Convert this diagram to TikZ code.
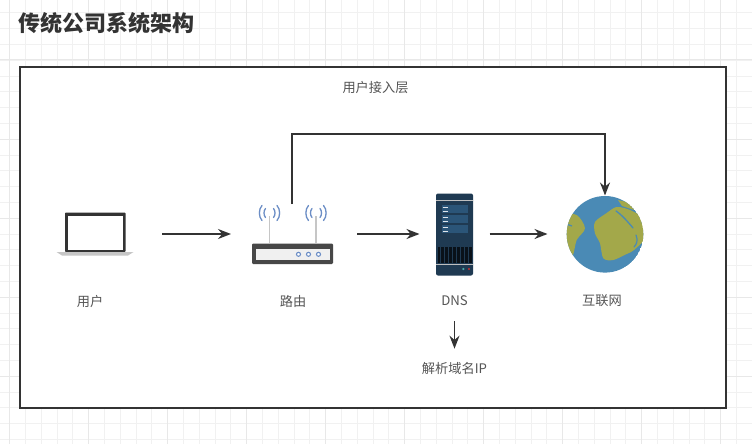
\documentclass[tikz,border=0pt]{standalone}
\usepackage{fontspec}
\setmainfont{Noto Sans CJK SC}
\usetikzlibrary{arrows.meta}
\definecolor{inkline}{HTML}{333333}
\definecolor{labelgray}{HTML}{555555}
\definecolor{gridthin}{HTML}{F1F1F1}
\definecolor{gridwide}{HTML}{E8E8E8}
\definecolor{wifiblue}{HTML}{6C8EC6}
\definecolor{rackdark}{HTML}{1F3A52}
\definecolor{rackpanel}{HTML}{2B5578}
\definecolor{ocean}{HTML}{4A8AB5}
\definecolor{land}{HTML}{A3A84A}
\tikzset{
	flow/.style={draw=inkline,line width=1.6pt,-{Stealth[length=13pt,width=10pt]}},
	caption/.style={text=labelgray,font=\fontsize{13.2}{15}\selectfont,inner sep=0pt},
	icon/.style={inner sep=0pt,outer sep=0pt,minimum width=#1},
	wifi/.style={draw=wifiblue,line width=1.3pt,line cap=round}
}
\begin{document}
\begin{tikzpicture}[x=1pt,y=-1pt]
	\useasboundingbox (0,0) rectangle (752,444);
	\foreach \k in {0,...,47} \draw [gridthin,line width=.8pt] (9.5+15.8*\k,0)--(9.5+15.8*\k,444);
	\foreach \k in {0,...,28} \draw [gridthin,line width=.8pt] (0,-3+15.8*\k)--(752,-3+15.8*\k);
	\foreach \k in {0,...,9} \draw [gridwide,line width=1pt] (9.5+79*\k,0)--(9.5+79*\k,444);
	\foreach \k in {0,...,5} \draw [gridwide,line width=1pt] (0,60+79*\k)--(752,60+79*\k);
	\node [anchor=west,inner sep=0pt,text=inkline,font=\fontsize{22}{25}\selectfont\bfseries] (title) at (18,23) {传统公司系统架构};
	\node [draw=inkline,fill=white,line width=1.8pt,minimum width=706pt,minimum height=341pt,inner sep=0pt] (frame) at (373,237.5) {};
	\node [caption] (layer) at (375.5,88) {用户接入层};
	\node [icon=78pt,minimum height=44pt] (laptop) at (95,234) {};
	\node [icon=82pt,minimum height=60pt] (router) at (292,234) {};
	\node [icon=38pt,minimum height=82pt] (dns) at (454.5,234) {};
	\node [icon=77pt,minimum height=77pt,circle] (globe) at (605,234) {};
	\node [caption] (userlabel) at (90,301) {用户};
	\node [caption] (routerlabel) at (293,301) {路由};
	\node [caption] (dnslabel) at (454.5,301) {DNS};
	\node [caption] (netlabel) at (602,301) {互联网};
	\node [caption] (iplabel) at (454.5,368) {解析域名IP};
	\coordinate (rail) at (450,134);
	\draw [fill=inkline,draw=none,rounded corners=.8pt] (65,212.5) rectangle (125.5,252);
	\draw [fill=white,draw=none] (67.5,215.5) rectangle (122.5,249.5);
	\draw [fill=gray!45,draw=none] (56.5,252) -- (133.5,252) -- (128,255.5) -- (62,255.5) -- cycle;
	\draw [gray!45,line width=1.6pt] (269.5,243)--(269.5,216);
	\draw [gray!45,line width=1.6pt] (316,243)--(316,216);
	\foreach \x in {269.5,316} {
		\draw [wifi] (\x-4,208.5) .. controls (\x-6,211) and (\x-6,215) .. (\x-4,217.5);
		\draw [wifi] (\x+4,208.5) .. controls (\x+6,211) and (\x+6,215) .. (\x+4,217.5);
		\draw [wifi] (\x-7.5,205.5) .. controls (\x-11,209) and (\x-11,217) .. (\x-7.5,220.5);
		\draw [wifi] (\x+7.5,205.5) .. controls (\x+11,209) and (\x+11,217) .. (\x+7.5,220.5);
	}
	\draw [fill=inkline!90,draw=none,rounded corners=1.2pt] (252,243.5) rectangle (333,264);
	\draw [fill=gray!12,draw=none] (256,249) rectangle (329.5,259.5);
	\foreach \x in {298.5,308.5,318.5} \draw [wifiblue,fill=white,line width=1.1pt] (\x,254.3) circle (2pt);
	\draw [fill=rackdark,draw=none,rounded corners=2pt] (436,193.5) rectangle (473,275.5);
	\draw [gray!50,line width=.8pt] (436,200.5)--(473,200.5);
	\draw [gray!50,line width=.8pt] (436,264.5)--(473,264.5);
	\foreach \y in {205,215,225} {
		\draw [fill=rackpanel,draw=none] (441.5,\y) rectangle (468,\y+8);
		\draw [white!85!rackpanel,line width=.8pt] (442.5,\y+2)--(448,\y+2);
		\draw [white!85!rackpanel,line width=.8pt] (442.5,\y+6)--(448,\y+6);
	}
	\draw [fill=black!70!rackdark,draw=none] (437.5,247) rectangle (471.5,263);
	\foreach \x in {440,444,...,470} \draw [rackdark,line width=.4pt] (\x,247)--(\x,263);
	\draw [fill=teal!70!white,draw=none] (463.3,269) circle (1.2pt);
	\draw [fill=red!60!gray,draw=none] (469,269) circle (1.2pt);
	\begin{scope}
		\clip (605,234.3) circle (38.3pt);
		\fill [ocean] (605,234.3) circle (38.3pt);
		\fill [land] plot [smooth cycle,tension=.5] coordinates {(595,222) (606.7,213) (616.7,207) (630,210) (641.7,218) (646,236.7) (634,250) (626.7,254) (613.3,260) (603.3,258.3) (600,243.3) (595,233.3)};
		\fill [land] plot [smooth cycle,tension=.5] coordinates {(562,216) (576.7,215) (585,228.3) (576.7,240) (571.7,256.7) (560,243.3)};
		\fill [land] (618,200) -- (630,203) -- (634,210) -- (622,206) -- cycle;
		\draw [ocean,line width=1.3pt,line cap=round] (616,211) .. controls (622,215) and (628,222) .. (633,228);
		\draw [ocean,line width=1.2pt,line cap=round] (636,235) .. controls (638,240) and (637,244) .. (634,247);
		\draw [ocean,line width=1.2pt] (566,224) -- (572,226);
	\end{scope}
	\draw [flow,shorten <=28pt,shorten >=20pt] (laptop) -- (router);
	\draw [flow,shorten <=24pt,shorten >=16pt] (router) -- (dns);
	\draw [flow,shorten <=16pt,shorten >=19pt] (dns) -- (globe);
	\draw [flow] (router.north) |- (rail) -| (globe.north);
	\draw [flow,shorten <=15pt,shorten >=13pt] (dnslabel.south) -- (iplabel.north);
\end{tikzpicture}
\end{document}
